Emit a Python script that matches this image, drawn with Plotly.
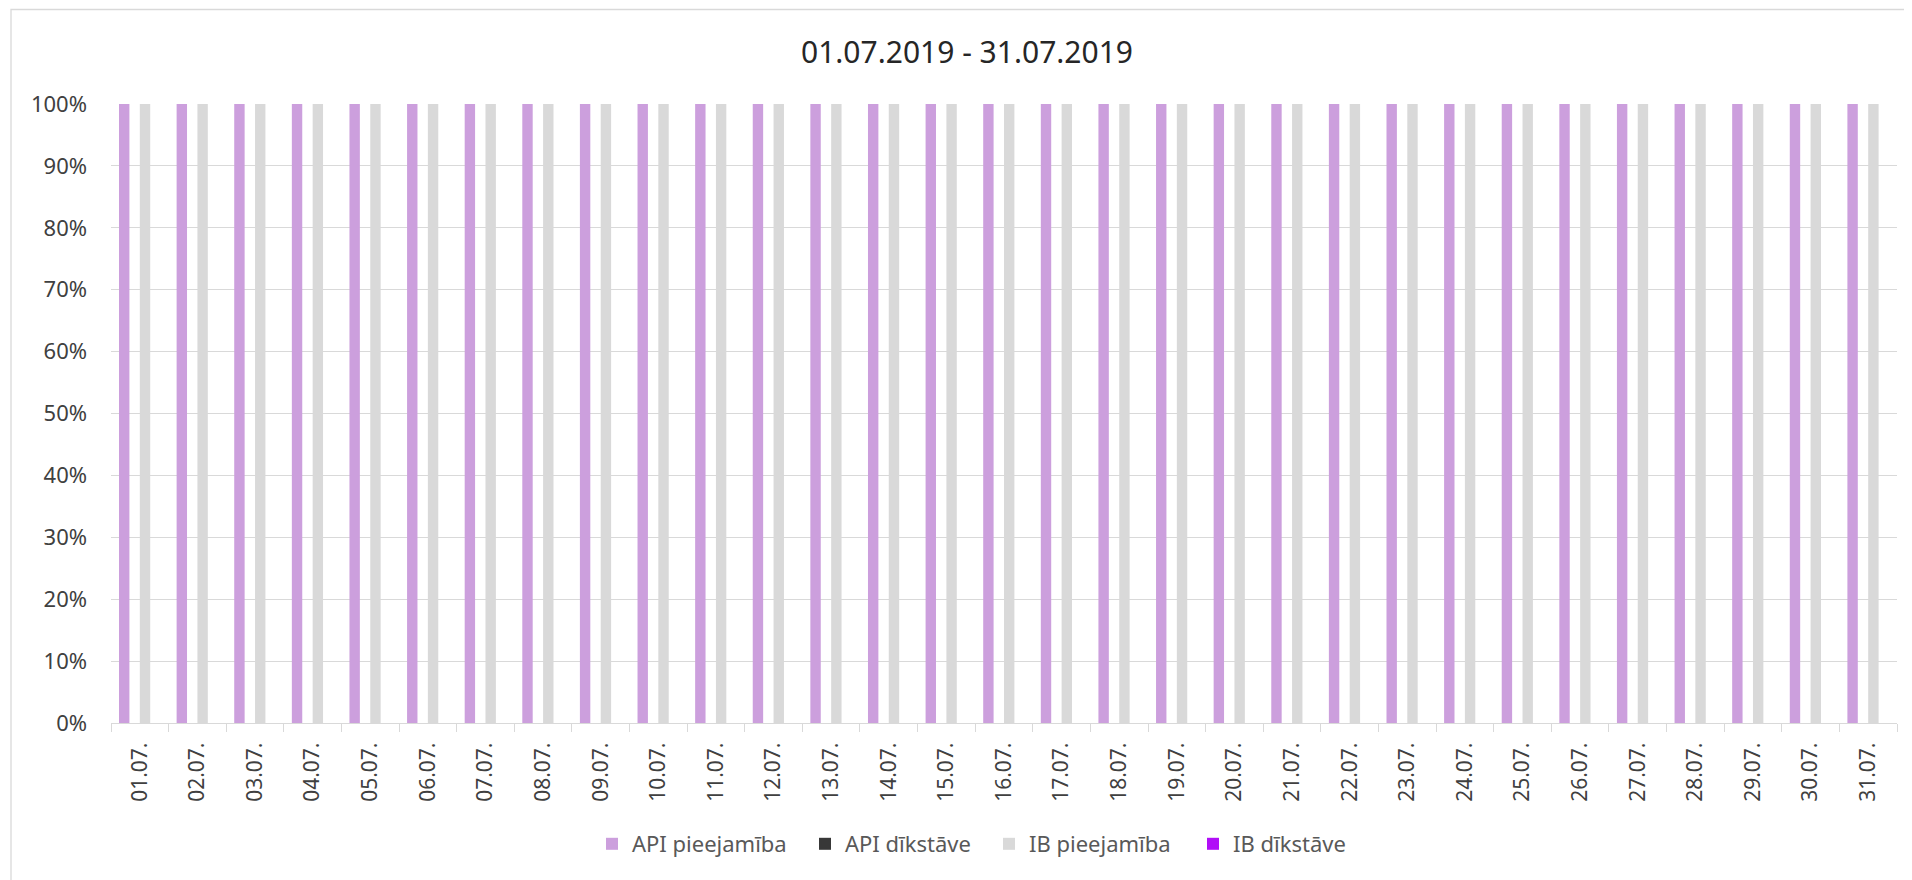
import plotly.graph_objects as go

days = [f"{d:02d}.07." for d in range(1, 32)]
api_available = [1.0] * 31
api_downtime = [0.0] * 31
ib_available = [1.0] * 31
ib_downtime = [0.0] * 31

series_names = ["API pieejamība", "API dīkstāve", "IB pieejamība", "IB dīkstāve"]
series_values = [api_available, api_downtime, ib_available, ib_downtime]
series_colors = ["#CC9FDD", "#383838", "#D9D9D9", "#B10EF7"]
legend_ids = ["legend", "legend2", "legend3", "legend4"]
legend_left_px = [592, 805, 989, 1193]

FONT = "Segoe UI, Noto Sans, sans-serif"

fig = go.Figure()
for name, vals, col, lid in zip(series_names, series_values, series_colors, legend_ids):
    fig.add_trace(go.Bar(x=days, y=vals, name=name, legend=lid,
                         marker=dict(color=col, line=dict(width=0))))

# the page body adds an 8px offset; the figure is sized to fit the window
OFF = 8
W, H = 1912 - OFF, 880 - OFF
L, R, T, B = 111 - OFF, 15, 104 - OFF, 157
pw, ph = W - L - R, H - T - B

def px_to_paper_x(px):
    return (px - OFF - L) / pw

def px_to_paper_y(py):
    return (H - B - (py - OFF)) / ph

legend_layout = {}
for lid, lx in zip(legend_ids, legend_left_px):
    legend_layout[lid] = dict(orientation="h", x=px_to_paper_x(lx), xanchor="left", xref="paper",
                              y=px_to_paper_y(844), yanchor="middle", yref="paper",
                              font=dict(size=22, color="#595959", family=FONT),
                              borderwidth=0, itemclick=False, bgcolor="rgba(0,0,0,0)")

fig.update_layout(
    width=W, height=H,
    margin=dict(l=L, r=R, t=T, b=B, pad=0),
    paper_bgcolor="white", plot_bgcolor="white",
    barmode="group", bargap=0.278, bargroupgap=0,
    font=dict(family=FONT, color="#404040"),
    title=dict(text="01.07.2019 - 31.07.2019", x=px_to_paper_x(967), xref="paper", xanchor="center",
               y=1 - (52 - OFF) / H, yanchor="middle", yref="container",
               font=dict(size=30, color="#262626", family=FONT)),
    showlegend=True,
    xaxis=dict(type="category", tickangle=-90, tickson="boundaries", ticks="outside", ticklen=8,
               tickcolor="#D9D9D9", tickwidth=1.3, showline=True, linecolor="#D9D9D9", linewidth=1.3,
               showgrid=False, tickfont=dict(size=21, color="#404040"), ticklabelstandoff=10),
    yaxis=dict(range=[0, 1], dtick=0.1, tickformat=".0%", showgrid=True, gridcolor="#D9D9D9",
               gridwidth=1.3, zeroline=False, showline=False, ticks="",
               tickfont=dict(size=22, color="#404040"), ticklabelstandoff=23),
    shapes=[
        dict(type="rect", xref="paper", yref="paper",
             x0=px_to_paper_x(11), x1=px_to_paper_x(1930),
             y0=px_to_paper_y(900), y1=px_to_paper_y(9.5),
             line=dict(color="#D9D9D9", width=1.3), fillcolor="rgba(0,0,0,0)", layer="below"),
    ],
    **legend_layout,
)

fig.write_html("out.html")
